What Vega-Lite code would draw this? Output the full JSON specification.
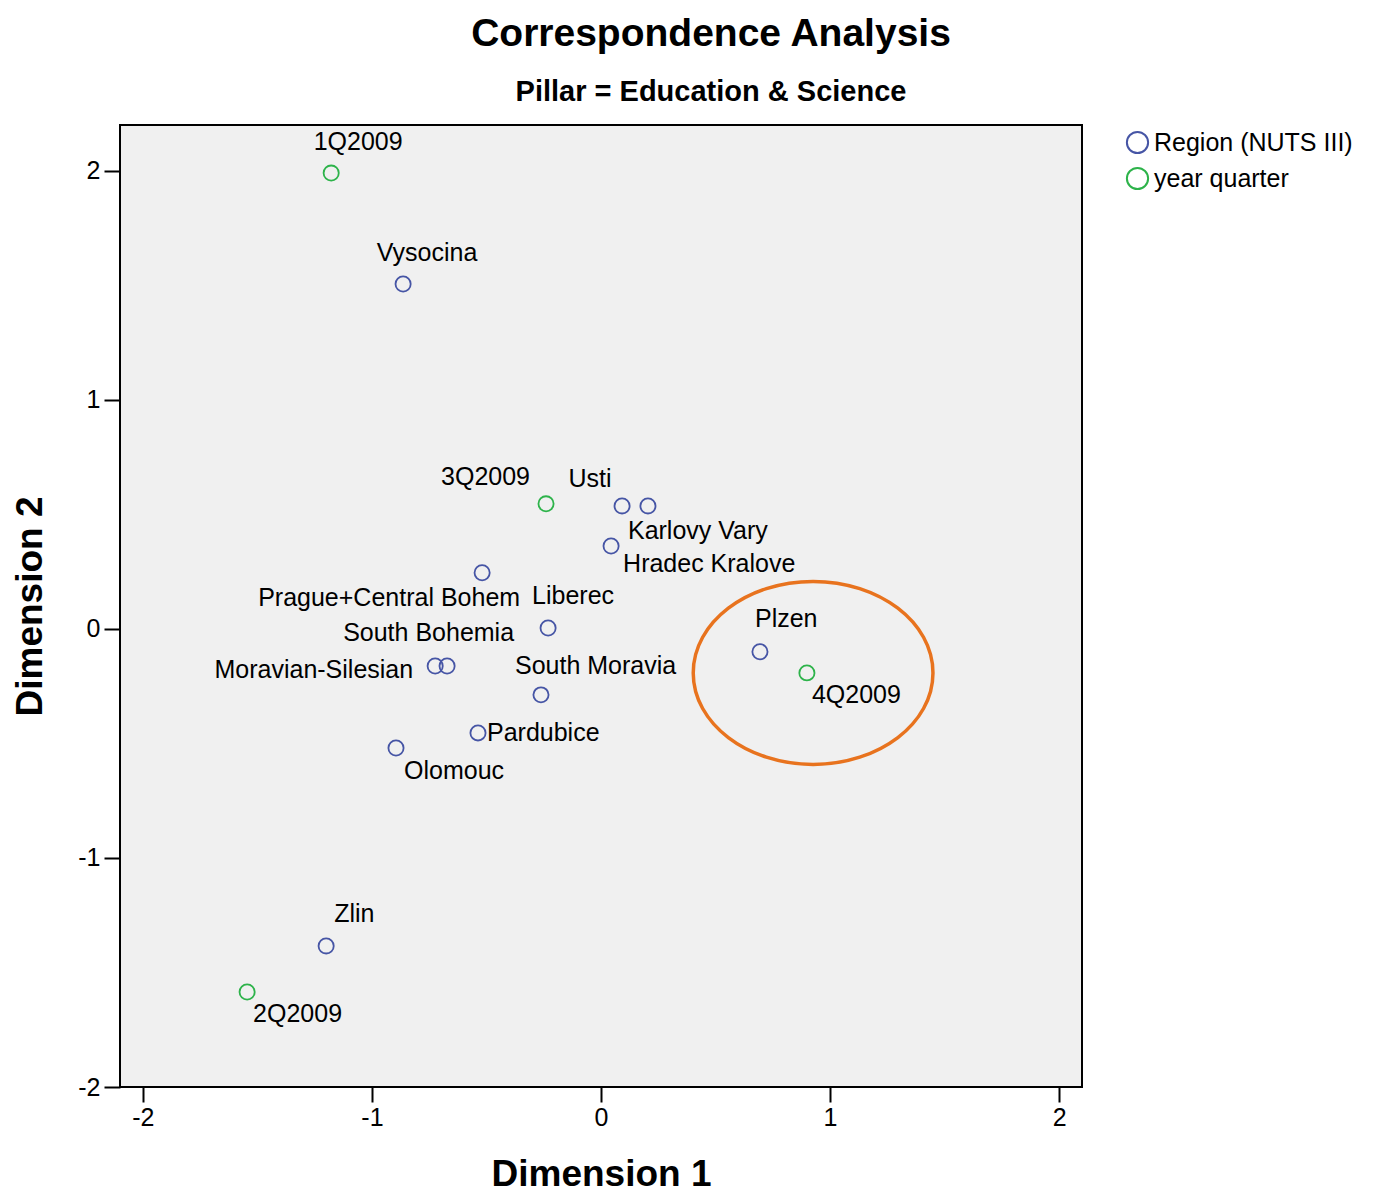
{
  "$schema": "https://vega.github.io/schema/vega-lite/v6.json",
  "width": 962,
  "height": 962,
  "autosize": {"type": "none"},
  "padding": {"left": 120, "top": 125, "right": 292, "bottom": 106},
  "background": "white",
  "title": {
    "text": "Correspondence Analysis",
    "subtitle": "Pillar = Education & Science",
    "anchor": "middle",
    "dx": 110,
    "font": "Liberation Sans",
    "subtitleFont": "Liberation Sans",
    "fontSize": 39,
    "subtitleFontSize": 29,
    "fontWeight": "bold",
    "subtitleFontWeight": "bold",
    "color": "#000000",
    "subtitleColor": "#000000",
    "offset": 18,
    "subtitlePadding": 24
  },
  "datasets": {
    "points": [
      {"name": "1Q2009", "type": "year quarter", "x": -1.178, "y": 1.99},
      {"name": "Vysocina", "type": "Region (NUTS III)", "x": -0.864, "y": 1.506},
      {"name": "3Q2009", "type": "year quarter", "x": -0.240, "y": 0.546},
      {"name": "Usti", "type": "Region (NUTS III)", "x": 0.092, "y": 0.537},
      {"name": "Karlovy Vary", "type": "Region (NUTS III)", "x": 0.205, "y": 0.537},
      {"name": "Hradec Kralove", "type": "Region (NUTS III)", "x": 0.044, "y": 0.362},
      {"name": "Prague+Central Bohem", "type": "Region (NUTS III)", "x": -0.519, "y": 0.245},
      {"name": "Liberec", "type": "Region (NUTS III)", "x": -0.231, "y": 0.004},
      {"name": "South Bohemia", "type": "Region (NUTS III)", "x": -0.672, "y": -0.162},
      {"name": "Moravian-Silesian", "type": "Region (NUTS III)", "x": -0.724, "y": -0.162},
      {"name": "South Moravia", "type": "Region (NUTS III)", "x": -0.262, "y": -0.288},
      {"name": "Pardubice", "type": "Region (NUTS III)", "x": -0.537, "y": -0.454},
      {"name": "Olomouc", "type": "Region (NUTS III)", "x": -0.895, "y": -0.52},
      {"name": "Plzen", "type": "Region (NUTS III)", "x": 0.694, "y": -0.10},
      {"name": "4Q2009", "type": "year quarter", "x": 0.899, "y": -0.192},
      {"name": "Zlin", "type": "Region (NUTS III)", "x": -1.2, "y": -1.384},
      {"name": "2Q2009", "type": "year quarter", "x": -1.545, "y": -1.585}
    ],
    "annotation": [{"x": 0.926, "y": -0.192}]
  },
  "data": {"name": "points"},
  "config": {
    "view": {"fill": "#F0F0F0", "stroke": "#000000", "strokeWidth": 2},
    "axis": {
      "grid": false,
      "domain": false,
      "tickColor": "#000000",
      "tickWidth": 2,
      "labelColor": "#000000",
      "labelFont": "Liberation Sans",
      "labelFontSize": 25,
      "titleFont": "Liberation Sans",
      "titleFontSize": 37,
      "titleFontWeight": "bold",
      "titleColor": "#000000",
      "labelExpr": "replace(datum.label, '\u2212', '-')"
    },
    "legend": {
      "labelFont": "Liberation Sans",
      "labelFontSize": 25,
      "labelColor": "#000000",
      "labelLimit": 0,
      "symbolSize": 450,
      "symbolStrokeWidth": 2,
      "padding": 0,
      "rowPadding": 5,
      "labelOffset": 4
    },
    "text": {"font": "Liberation Sans", "fontSize": 25, "color": "#000000", "baseline": "middle"}
  },
  "encoding": {
    "x": {
      "field": "x",
      "type": "quantitative",
      "scale": {"domain": [-2.1, 2.1], "nice": false, "zero": false},
      "axis": {"values": [-2, -1, 0, 1, 2], "title": "Dimension 1", "tickSize": 15, "labelPadding": 3, "titlePadding": 26}
    },
    "y": {
      "field": "y",
      "type": "quantitative",
      "scale": {"domain": [-2, 2.2], "nice": false, "zero": false},
      "axis": {"values": [-2, -1, 0, 1, 2], "title": "Dimension 2", "tickSize": 16, "labelPadding": 4, "titlePadding": 28}
    }
  },
  "layer": [
    {
      "data": {"name": "annotation"},
      "mark": {
        "type": "point",
        "shape": "M -1.31 0 A 1.31 1 0 1 1 1.31 0 A 1.31 1 0 1 1 -1.31 0 Z",
        "size": 33489,
        "filled": false,
        "stroke": "#E8731E",
        "strokeWidth": 3.5,
        "opacity": 1
      }
    },
    {
      "mark": {"type": "point", "filled": false, "size": 230, "strokeWidth": 1.8, "opacity": 1},
      "encoding": {
        "color": {
          "field": "type",
          "type": "nominal",
          "scale": {"domain": ["Region (NUTS III)", "year quarter"], "range": ["#4655A5", "#2DB34A"]},
          "legend": {"title": null, "orient": "none", "legendX": 1005, "legendY": 5}
        }
      }
    },
    {"transform": [{"filter": "datum.name == '1Q2009'"}], "mark": {"type": "text", "align": "center", "dx": 27, "dy": -31}, "encoding": {"text": {"field": "name"}}},
    {"transform": [{"filter": "datum.name == 'Vysocina'"}], "mark": {"type": "text", "align": "center", "dx": 24, "dy": -31}, "encoding": {"text": {"field": "name"}}},
    {"transform": [{"filter": "datum.name == '3Q2009'"}], "mark": {"type": "text", "align": "right", "dx": -16, "dy": -27}, "encoding": {"text": {"field": "name"}}},
    {"transform": [{"filter": "datum.name == 'Usti'"}], "mark": {"type": "text", "align": "center", "dx": -32, "dy": -27}, "encoding": {"text": {"field": "name"}}},
    {"transform": [{"filter": "datum.name == 'Karlovy Vary'"}], "mark": {"type": "text", "align": "left", "dx": -20, "dy": 25}, "encoding": {"text": {"field": "name"}}},
    {"transform": [{"filter": "datum.name == 'Hradec Kralove'"}], "mark": {"type": "text", "align": "left", "dx": 12, "dy": 18}, "encoding": {"text": {"field": "name"}}},
    {"transform": [{"filter": "datum.name == 'Prague+Central Bohem'"}], "mark": {"type": "text", "align": "right", "dx": 38, "dy": 25}, "encoding": {"text": {"field": "name"}}},
    {"transform": [{"filter": "datum.name == 'Liberec'"}], "mark": {"type": "text", "align": "left", "dx": -16, "dy": -32}, "encoding": {"text": {"field": "name"}}},
    {"transform": [{"filter": "datum.name == 'South Bohemia'"}], "mark": {"type": "text", "align": "right", "dx": 67, "dy": -33}, "encoding": {"text": {"field": "name"}}},
    {"transform": [{"filter": "datum.name == 'Moravian-Silesian'"}], "mark": {"type": "text", "align": "right", "dx": -22, "dy": 4}, "encoding": {"text": {"field": "name"}}},
    {"transform": [{"filter": "datum.name == 'South Moravia'"}], "mark": {"type": "text", "align": "left", "dx": -26, "dy": -29}, "encoding": {"text": {"field": "name"}}},
    {"transform": [{"filter": "datum.name == 'Pardubice'"}], "mark": {"type": "text", "align": "left", "dx": 9, "dy": 0}, "encoding": {"text": {"field": "name"}}},
    {"transform": [{"filter": "datum.name == 'Olomouc'"}], "mark": {"type": "text", "align": "left", "dx": 8, "dy": 23}, "encoding": {"text": {"field": "name"}}},
    {"transform": [{"filter": "datum.name == 'Plzen'"}], "mark": {"type": "text", "align": "left", "dx": -5, "dy": -33}, "encoding": {"text": {"field": "name"}}},
    {"transform": [{"filter": "datum.name == '4Q2009'"}], "mark": {"type": "text", "align": "left", "dx": 5, "dy": 22}, "encoding": {"text": {"field": "name"}}},
    {"transform": [{"filter": "datum.name == 'Zlin'"}], "mark": {"type": "text", "align": "left", "dx": 8, "dy": -32}, "encoding": {"text": {"field": "name"}}},
    {"transform": [{"filter": "datum.name == '2Q2009'"}], "mark": {"type": "text", "align": "left", "dx": 6, "dy": 22}, "encoding": {"text": {"field": "name"}}}
  ]
}
